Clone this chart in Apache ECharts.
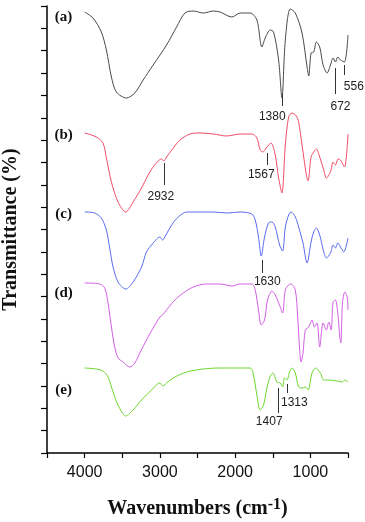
<!DOCTYPE html>
<html>
<head>
<meta charset="utf-8">
<script src="https://cdn.jsdelivr.net/npm/echarts@6/dist/echarts.min.js"></script>
<style>
  html, body { margin: 0; padding: 0; background: #fff; }
  #chart { width: 365px; height: 522px; }
</style>
</head>
<body>
<div id="chart"></div>
<script>
// spectra: [wavenumber, transmittance (arbitrary, stacked)]
const curveA = [[4000,441],[3889,435],[3778,421],[3711,403],[3644,376],[3578,361],[3444,355],[3333,360],[3222,373],[3089,388],[2911,408],[2778,426],[2667,440],[2556,442],[2422,440],[2289,442],[2200,441],[2044,436],[1933,440],[1800,440],[1711,433],[1644,406],[1600,415],[1533,423],[1489,421],[1422,393],[1378,355],[1333,413],[1267,444],[1200,440],[1111,420],[1044,386],[1022,377],[991,400],[956,401],[920,411],[876,406],[831,388],[778,380],[733,388],[698,395],[667,391],[636,396],[600,393],[547,391],[500,418]]
const curveB = [[4000,320],[3844,316],[3756,310],[3711,295],[3644,271],[3556,251],[3453,241],[3356,251],[3244,265],[3156,278],[3089,286],[2978,294],[2947,292],[2911,296],[2822,305],[2733,313],[2600,319],[2467,320],[2289,319],[2111,317],[2022,318],[1933,319],[1778,319],[1711,315],[1667,303],[1631,301],[1587,305],[1524,310],[1467,298],[1422,275],[1378,260],[1333,308],[1289,336],[1244,340],[1187,337],[1156,331],[1111,308],[1053,278],[1031,272],[991,296],[956,301],[920,304],[876,296],[822,283],[787,275],[733,281],[698,291],[667,288],[631,294],[600,293],[547,286],[500,319]]
const curveC = [[4000,241],[3867,240],[3778,235],[3711,223],[3667,205],[3622,186],[3556,171],[3453,164],[3356,171],[3244,186],[3178,201],[3089,210],[3000,216],[2964,213],[2920,218],[2844,228],[2756,236],[2644,241],[2467,241],[2289,241],[2111,240],[1933,241],[1778,239],[1733,233],[1689,216],[1653,197],[1609,216],[1556,230],[1511,231],[1467,226],[1409,208],[1369,202],[1333,226],[1289,238],[1258,241],[1200,236],[1156,226],[1098,210],[1044,190],[991,211],[956,221],[920,225],[876,218],[822,201],[787,195],[733,200],[698,208],[667,205],[636,210],[600,206],[556,201],[500,215]]
const curveD = [[4000,170],[3800,169],[3733,165],[3689,150],[3644,126],[3600,106],[3556,95],[3489,91],[3400,86],[3333,90],[3267,100],[3178,113],[3067,128],[3000,136],[2964,138],[2911,143],[2800,153],[2689,160],[2556,166],[2378,169],[2200,169],[2044,167],[1933,169],[1778,169],[1733,163],[1689,143],[1653,128],[1609,133],[1569,153],[1511,162],[1467,158],[1400,146],[1369,140],[1333,163],[1289,168],[1258,169],[1200,163],[1169,136],[1142,103],[1124,91],[1098,100],[1067,123],[1022,126],[978,133],[947,126],[911,130],[876,106],[831,130],[787,123],[756,131],[724,123],[698,151],[667,153],[636,140],[609,116],[596,110],[573,150],[542,161],[511,156],[500,143]]
const curveE = [[4000,85],[3844,84],[3756,82],[3689,76],[3622,61],[3556,48],[3453,37],[3356,43],[3244,53],[3111,63],[3000,70],[2956,67],[2911,70],[2800,76],[2644,81],[2422,84],[2200,85],[1978,85],[1800,85],[1756,78],[1711,58],[1667,43],[1622,48],[1578,65],[1533,77],[1498,80],[1444,71],[1400,70],[1369,66],[1342,75],[1311,73],[1276,81],[1244,85],[1200,80],[1156,66],[1111,65],[1067,66],[1031,63],[978,80],[933,85],[867,80],[822,73],[756,73],[644,72],[578,71],[542,73],[500,71]]

const curveNames = ['(a)', '(b)', '(c)', '(d)', '(e)']
const nameLevel = [436, 318, 239, 160, 63]
const xLabels = [1000, 2000, 3000, 4000]

// peak marks: text, wavenumber, line top, line bottom, label x, label y
const peaksA = [['1380', 1378, 359, 347, 1507, 336], ['672', 667, 385, 359, 600, 346], ['556', 556, 388, 378, 556, 366, 'left']]
const peaksB = [['2932', 2943, 290, 268, 2987, 256], ['1567', 1578, 300, 288, 1653, 278]]
const peaksC = [['1630', 1644, 193, 180, 1573, 171]]
const peaksD = []
const peaksE = [['1407', 1422, 65, 40, 1547, 31], ['1313', 1311, 69, 60, 1213, 50]]

const curves = [curveA, curveB, curveC, curveD, curveE]
const peaks = [peaksA, peaksB, peaksC, peaksD, peaksE]
const colors = ['#4a4a4a', '#f24d66', '#5a6cf0', '#d45ee6', '#6ad82c']

const serif = '"Liberation Serif", "Times New Roman", serif'
const sans = '"Liberation Sans", Arial, sans-serif'

let chart = echarts.init(document.getElementById('chart'))

let series = curves.map((c, i) => {
  let pk = peaks[i]
  let points = [{
    coord: [4280, nameLevel[i]],
    label: { formatter: curveNames[i], fontFamily: serif, fontWeight: 'bold', fontSize: 15, color: '#111' }
  }]
  pk.forEach(p => {
    points.push({
      coord: [p[4], p[5]],
      label: { formatter: p[0], align: p[6] || 'center' }
    })
  })
  return {
    type: 'line',
    data: c,
    smooth: 0.3,
    showSymbol: false,
    lineStyle: { color: colors[i], width: 1 },
    itemStyle: { color: colors[i] },
    markLine: {
      silent: true,
      symbol: 'none',
      label: { show: false },
      lineStyle: { color: '#333', width: 1, type: 'solid' },
      data: pk.map(p => [{ coord: [p[1], p[2]] }, { coord: [p[1], p[3]] }])
    },
    markPoint: {
      silent: true,
      symbol: 'circle',
      symbolSize: 0,
      label: { show: true, position: 'inside', fontFamily: sans, fontSize: 12, color: '#222' },
      data: points
    }
  }
})

chart.setOption({
  animation: false,
  backgroundColor: '#fff',
  grid: { left: 47, right: 17, top: 6, bottom: 69, outerBoundsMode: 'none', containLabel: false },
  xAxis: {
    type: 'value',
    inverse: true,
    min: 500,
    max: 4500,
    interval: 500,
    name: '{t|Wavenumbers (cm}{s|-1}{t|)}',
    nameLocation: 'middle',
    nameGap: 44,
    nameTextStyle: {
      rich: {
        t: { fontFamily: serif, fontWeight: 'bold', fontSize: 20, color: '#111', lineHeight: 24 },
        s: { fontFamily: serif, fontWeight: 'bold', fontSize: 16, color: '#111', verticalAlign: 'top', lineHeight: 16 }
      }
    },
    splitLine: { show: false },
    axisLine: { lineStyle: { color: '#000', width: 1.5 } },
    axisTick: { length: 5, lineStyle: { color: '#000', width: 1.2 } },
    axisLabel: {
      margin: 12,
      fontFamily: sans,
      fontSize: 16,
      color: '#111',
      formatter: v => (xLabels.indexOf(v) >= 0 ? String(v) : '')
    }
  },
  yAxis: {
    type: 'value',
    min: 0,
    max: 447,
    interval: 22.35,
    name: 'Transmittance (%)',
    nameLocation: 'middle',
    nameGap: 26,
    nameTextStyle: { fontFamily: serif, fontWeight: 'bold', fontSize: 20, color: '#111' },
    splitLine: { show: false },
    axisLine: { show: true, lineStyle: { color: '#000', width: 1.5 } },
    axisTick: { length: 6, lineStyle: { color: '#000', width: 1.2 } },
    axisLabel: { show: false }
  },
  series: series
})
</script>
</body>
</html>
